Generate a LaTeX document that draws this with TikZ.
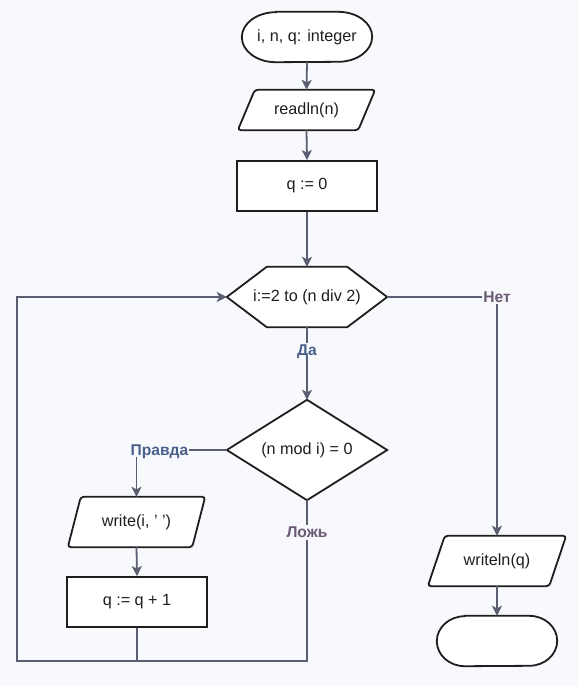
\documentclass[tikz,border=0pt]{standalone}
\usepackage{fontspec}
\setmainfont{Liberation Sans}
\usetikzlibrary{arrows.meta,calc}
\definecolor{bg}{RGB}{248,249,252}
\definecolor{edge}{RGB}{89,94,112}
\definecolor{ink}{RGB}{30,30,30}
\definecolor{yescol}{RGB}{74,96,140}
\definecolor{nocol}{RGB}{107,90,115}
\pgfdeclarelayer{back}
\pgfdeclarelayer{mid}
\pgfsetlayers{back,mid,main}
\begin{document}
\begin{tikzpicture}[x=1pt,y=-1pt,
  frame/.style={draw=ink, line width=1.8pt, fill=white},
  txt/.style={font=\fontsize{16.2}{19}\selectfont, text=ink, inner sep=0pt},
  conn/.style={draw=edge, line width=1.8pt},
  arr/.style={conn, -{Stealth[length=10pt,width=10pt,inset=2.5pt]}},
  lbl/.style={font=\bfseries\fontsize{15.6}{17}\selectfont, fill=bg, inner sep=1pt, text height=11.5pt, text depth=1pt},
  procbox/.style={txt, frame, minimum width=140pt, minimum height=50pt}
]
\begin{pgfonlayer}{back}
\fill[bg] (0,0) rectangle (579,686);
\end{pgfonlayer}
\useasboundingbox (0,0) rectangle (579,686);

% nodes
\node[txt, minimum width=130pt, minimum height=50pt] (start) at (307,37) {i, n, q: integer};
\node[txt, minimum width=137pt, minimum height=40pt] (rd) at (306.5,110) {readln(n)};
\node[procbox] (q0) at (307,186) {q := 0};
\node[txt, minimum width=160pt, minimum height=60pt] (loop) at (307,297) {i:=2 to (n div 2)};
\node[txt, minimum width=160pt, minimum height=100pt] (cond) at (307,450) {(n mod i) = 0};
\node[txt, minimum width=137pt, minimum height=50pt] (wr) at (136.5,522) {write(i, ' ')};
\node[procbox] (inc) at (137,602) {q := q + 1};
\node[txt, minimum width=138pt, minimum height=50pt] (wl) at (497,561) {writeln(q)};
\node[txt, minimum width=120pt, minimum height=50pt] (stop) at (497,641) {};

% shapes behind text
\begin{pgfonlayer}{mid}
\draw[frame] ($(start.north west)+(34,0)$) -- ($(start.north east)+(-34,0)$)
  arc[start angle=90, end angle=-90, x radius=34pt, y radius=25pt]
  -- ($(start.south west)+(34,0)$)
  arc[start angle=270, end angle=90, x radius=34pt, y radius=25pt] -- cycle;
\draw[frame] ($(stop.north west)+(28,0)$) -- ($(stop.north east)+(-28,0)$)
  arc[start angle=90, end angle=-90, x radius=28pt, y radius=25pt]
  -- ($(stop.south west)+(28,0)$)
  arc[start angle=270, end angle=90, x radius=28pt, y radius=25pt] -- cycle;
\draw[frame, rounded corners=3pt] ($(rd.north west)+(17,0)$) -- (rd.north east) -- ($(rd.south east)+(-17,0)$) -- (rd.south west) -- cycle;
\draw[frame, rounded corners=3pt] ($(wr.north west)+(13,0)$) -- (wr.north east) -- ($(wr.south east)+(-13,0)$) -- (wr.south west) -- cycle;
\draw[frame, rounded corners=3pt] ($(wl.north west)+(17,0)$) -- (wl.north east) -- ($(wl.south east)+(-17,0)$) -- (wl.south west) -- cycle;
\draw[frame] (loop.west) -- ($(loop.north west)+(40,0)$) -- ($(loop.north east)+(-40,0)$) -- (loop.east) -- ($(loop.south east)+(-40,0)$) -- ($(loop.south west)+(40,0)$) -- cycle;
\draw[frame] (cond.north) -- (cond.east) -- (cond.south) -- (cond.west) -- cycle;
\end{pgfonlayer}

% helper coordinates
\coordinate (tl) at (17,297);
\coordinate (bl) at (17,661);
\coordinate (br) at (307,661);
\coordinate (bm) at (137,661);

% connectors
\draw[arr] (start.south) -- (rd.north);
\draw[arr] (rd.south) -- (q0.north);
\draw[arr] (q0.south) -- (loop.north);
\draw[arr] (loop.south) -- node[lbl, text=yescol, pos=0.315] {Да} (cond.north);
\draw[arr] (loop.east) -| node[lbl, text=nocol, pos=0.5] {Нет} (wl.north);
\draw[arr] (cond.west) -| node[lbl, text=yescol, pos=0.5, xshift=23pt] {Правда} (wr.north);
\draw[arr] (wr.south) -- (inc.north);
\draw[conn] (inc.south) -- (bm);
\draw[arr] (cond.south) -- node[lbl, text=nocol, pos=0.2] {Ложь} (br) -- (bl) -- (tl) -- (loop.west);
\draw[arr] (wl.south) -- (stop.north);
\end{tikzpicture}
\end{document}
